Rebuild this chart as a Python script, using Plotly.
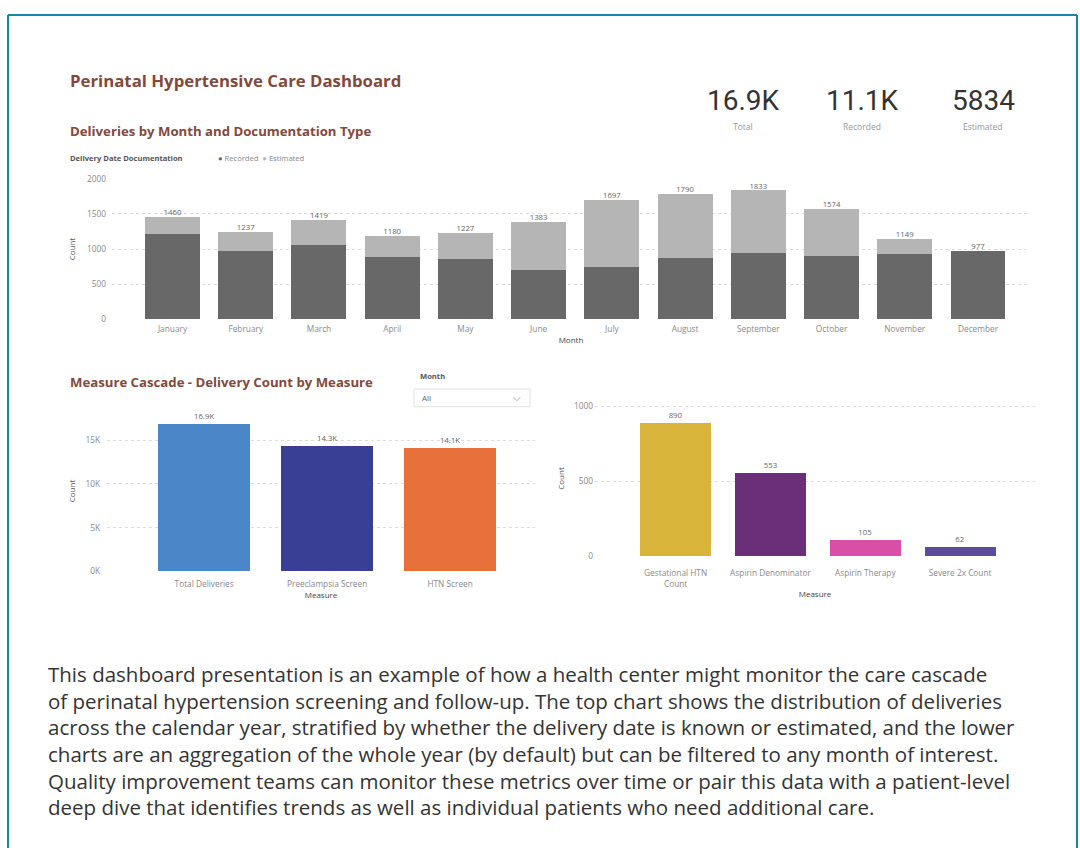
import plotly.graph_objects as go

# ---- data ----
months = ["January", "February", "March", "April", "May", "June", "July",
          "August", "September", "October", "November", "December"]
recorded = [1212, 975, 1054, 890, 866, 707, 749, 880, 941, 904, 937, 977]
estimated = [248, 262, 365, 290, 361, 676, 948, 910, 892, 670, 212, 0]

kpi_labels = ["Total", "Recorded", "Estimated"]

cascade_measures = ["Total Deliveries", "Preeclampsia Screen", "HTN Screen"]
cascade_counts = [16926, 14320, 14080]
cascade_colors = ["#4a86c8", "#3a3f96", "#e8703a"]

followup_measures = ["Gestational HTN<br>Count", "Aspirin Denominator", "Aspirin Therapy", "Severe 2x Count"]
followup_counts = [890, 553, 105, 62]
followup_colors = ["#d9b43a", "#6b2f7a", "#d94fa8", "#5b4d9b"]

description = [
    "This dashboard presentation is an example of how a health center might monitor the care cascade",
    "of perinatal hypertension screening and follow-up. The top chart shows the distribution of deliveries",
    "across the calendar year, stratified by whether the delivery date is known or estimated, and the lower",
    "charts are an aggregation of the whole year (by default) but can be filtered to any month of interest.",
    "Quality improvement teams can monitor these metrics over time or pair this data with a patient-level",
    "deep dive that identifies trends as well as individual patients who need additional care.",
]

W, H = 1080, 853


def fx(px):
    return px / W


def fy(py):
    return 1 - py / H


def short_k(v):
    return f"{v / 1000:.1f}K"


totals = [r + e for r, e in zip(recorded, estimated)]
total_all = sum(totals)
rec_all = sum(recorded)
est_all = sum(estimated)

REC_COLOR = "#686868"
EST_COLOR = "#b5b5b5"
TITLE_COLOR = "#84493b"
TICK_FONT = dict(family="Open Sans", size=8.3, color="#8a8a8a")
LABEL_FONT = dict(family="Open Sans", size=7.8, color="#666666")
AXTITLE_FONT = dict(family="Open Sans", size=8, color="#555555")
XTITLE_FONT = dict(family="Open Sans", size=8, color="#444444")
GRID = dict(showgrid=True, gridcolor="#dcdcdc", griddash="dot", gridwidth=1,
            zeroline=False, showline=False, ticks="")
XAX = dict(showgrid=False, zeroline=False, showline=False, ticks="", tickfont=TICK_FONT)

fig = go.Figure()

# ---- top chart: stacked deliveries by month ----
fig.add_trace(go.Bar(x=months, y=recorded, name="Recorded", marker_color=REC_COLOR,
                     marker_line_width=0, xaxis="x", yaxis="y", hoverinfo="x+y"))
fig.add_trace(go.Bar(x=months, y=estimated, name="Estimated", marker_color=EST_COLOR,
                     marker_line_width=0, xaxis="x", yaxis="y", hoverinfo="x+y"))
fig.add_trace(go.Scatter(x=months, y=totals, mode="text", text=[str(t) for t in totals],
                         textposition="top center", textfont=LABEL_FONT,
                         xaxis="x", yaxis="y", hoverinfo="skip", cliponaxis=False))

# ---- bottom-left: cascade ----
fig.add_trace(go.Bar(x=cascade_measures, y=cascade_counts, marker_color=cascade_colors,
                     marker_line_width=0, xaxis="x2", yaxis="y2",
                     text=[short_k(v) for v in cascade_counts], textposition="outside",
                     textfont=LABEL_FONT, cliponaxis=False))

# ---- bottom-right: follow-up measures ----
fig.add_trace(go.Bar(x=followup_measures, y=followup_counts, marker_color=followup_colors,
                     marker_line_width=0, xaxis="x3", yaxis="y3",
                     text=[str(v) for v in followup_counts], textposition="outside",
                     textfont=LABEL_FONT, cliponaxis=False))

n_top = len(months)
fig.update_layout(
    width=W, height=H,
    margin=dict(l=0, r=0, t=0, b=0),
    paper_bgcolor="white", plot_bgcolor="white",
    showlegend=False,
    barmode="stack",
    bargap=0.25,
    xaxis=dict(domain=[fx(112), fx(1030)], anchor="y", range=[-0.826, n_top - 1 + 0.71],
               ticklabelstandoff=3,
               title=dict(text="Month", font=XTITLE_FONT, standoff=4), **XAX),
    yaxis=dict(domain=[fy(317.5), fy(175)], anchor="x", range=[0, 2000],
               tickvals=[0, 500, 1000, 1500, 2000], tickfont=TICK_FONT, ticklabelstandoff=5,
               title=dict(text="Count", font=AXTITLE_FONT, standoff=10), **GRID),
    xaxis2=dict(domain=[fx(107), fx(535)], anchor="y2", range=[-0.79, 2.69],
                ticklabelstandoff=6,
                title=dict(text="Measure", font=XTITLE_FONT, standoff=2), **XAX),
    yaxis2=dict(domain=[fy(572.7), fy(410)], anchor="x2", range=[0, 18390],
                tickvals=[0, 5000, 10000, 15000], ticktext=["0K", "5K", "10K", "15K"],
                tickfont=TICK_FONT, ticklabelstandoff=6,
                title=dict(text="Count", font=AXTITLE_FONT, standoff=8), **GRID),
    xaxis3=dict(domain=[fx(595), fx(1035)], anchor="y3", range=[-0.85, 3.79],
                ticklabelstandoff=11,
                title=dict(text="Measure", font=XTITLE_FONT, standoff=3), **XAX),
    yaxis3=dict(domain=[fy(557.3), fy(400)], anchor="x3", range=[0, 1037.6],
                tickvals=[0, 500, 1000], tickfont=TICK_FONT, ticklabelstandoff=1,
                title=dict(text="Count", font=AXTITLE_FONT, standoff=8), **GRID),
)

annotations = []


def note(text, x, y, size, color, xanchor="left", yanchor="middle", family="Open Sans", **kw):
    annotations.append(dict(text=text, x=fx(x), y=fy(y), xref="paper", yref="paper",
                            xanchor=xanchor, yanchor=yanchor, showarrow=False,
                            font=dict(family=family, size=size, color=color), **kw))


# titles
note("<b>Perinatal Hypertensive Care Dashboard</b>", 68, 75, 16.8, TITLE_COLOR)
note("<b>Deliveries by Month and Documentation Type</b>", 68, 127, 13.2, TITLE_COLOR)
note("<b>Measure Cascade - Delivery Count by Measure</b>", 68, 381, 13.2, TITLE_COLOR)

# legend for top chart
note("<b>Delivery Date Documentation</b>", 68, 154, 7.6, "#555555")
note("<span style='color:%s'>●</span> Recorded  <span style='color:%s'>●</span> Estimated"
     % (REC_COLOR, EST_COLOR), 216, 154, 7.6, "#888888")

# KPI cards
kpi_values = [short_k(total_all), short_k(rec_all), str(est_all)]
kpi_x = [743, 862, 983]
for val, lab, x in zip(kpi_values, kpi_labels, kpi_x):
    note(val, x, 96, 28, "#333333", xanchor="center", family="Roboto")
    note(lab, x, 122, 8.5, "#999999", xanchor="center")

# month slicer
note("<b>Month</b>", 418, 375, 7.6, "#555555")
note("All", 420, 397, 8, "#666666")
note("⌵", 517, 396, 10, "#888888", xanchor="center")

# description paragraph (one block so the lines share Plotly's line spacing)
note("<br>".join(description), 46, 661, 20.5, "#333333", yanchor="top", align="left")

fig.update_layout(annotations=annotations)

# slicer box and page frame
fig.add_shape(type="rect", xref="paper", yref="paper",
              x0=fx(414), x1=fx(530), y0=fy(406), y1=fy(388),
              line=dict(color="#e2e2e2", width=1), fillcolor="rgba(0,0,0,0)")
frame = dict(color="#1786ad", width=2)
fig.add_shape(type="line", xref="paper", yref="paper", x0=fx(8), x1=fx(8), y0=fy(9), y1=0,
              line=frame)
fig.add_shape(type="line", xref="paper", yref="paper", x0=fx(8), x1=fx(1077), y0=fy(9), y1=fy(9),
              line=frame)
fig.add_shape(type="line", xref="paper", yref="paper", x0=fx(1077), x1=fx(1077), y0=fy(9), y1=0,
              line=frame)

fig.write_html("out.html")
